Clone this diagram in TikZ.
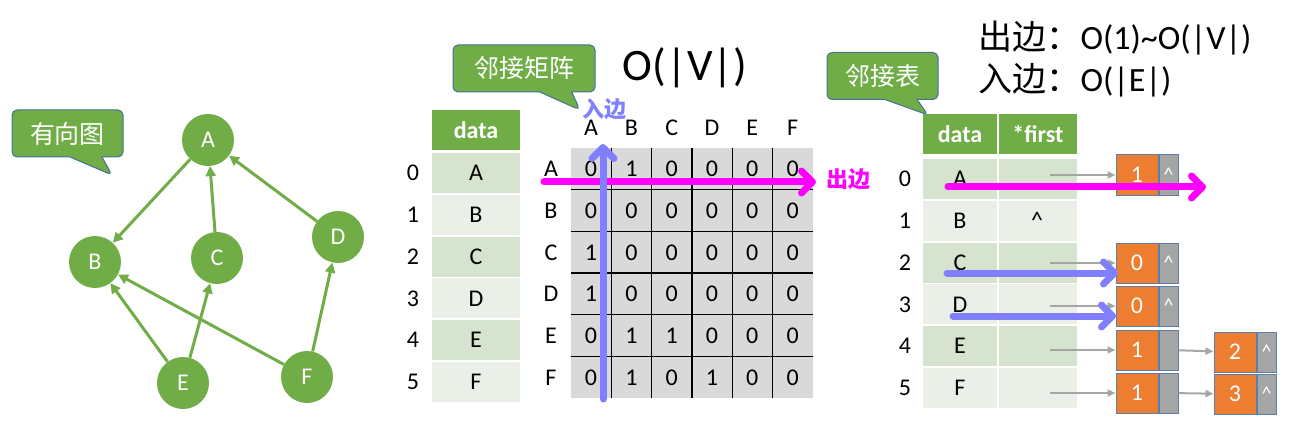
\documentclass[tikz,border=0pt]{standalone}
\usepackage{fontspec}
\setmainfont{Carlito}
\newfontfamily\cjk{Noto Sans CJK SC}
\usetikzlibrary{arrows.meta,shapes.callouts}
\definecolor{gnode}{HTML}{70AD47}
\definecolor{cbord}{HTML}{41719C}
\definecolor{rowa}{HTML}{D5E3CF}
\definecolor{rowb}{HTML}{EAEFE7}
\definecolor{mgray}{HTML}{D9D9D9}
\definecolor{orng}{HTML}{ED7D31}
\definecolor{gbx}{HTML}{A5A5A5}
\definecolor{bbord}{HTML}{5B7FA8}
\definecolor{ptrc}{HTML}{A6A6A6}
\definecolor{outc}{HTML}{FF00FF}
\definecolor{inc}{HTML}{8080FF}

\begin{document}
\begin{tikzpicture}[x=1pt,y=-1pt,
    vtx/.style={circle,fill=gnode,text=white,minimum size=52pt,inner sep=0pt,font=\fontsize{24}{28}\selectfont},
    gedge/.style={gnode,line width=3pt,-{Triangle[length=10pt,width=10pt]}},
    bubble/.style={rectangle callout,fill=gnode,draw=cbord,line width=1pt,rounded corners=5pt,
        minimum width=111pt,minimum height=47pt,inner sep=0pt,text=white,callout pointer width=32pt,
        font=\cjk\fontsize{25}{28}\selectfont},
    txt/.style={font=\fontsize{24}{28}\selectfont},
    hcell/.style={fill=gnode,text=white,minimum height=40pt,inner sep=0pt,font=\bfseries\fontsize{24}{28}\selectfont},
    dcell/.style={minimum height=40pt,inner sep=0pt,font=\fontsize{24}{28}\selectfont},
    obox/.style={fill=orng,draw=bbord,line width=1pt,minimum width=42pt,minimum height=40pt,inner sep=0pt,
        text=white,font=\fontsize{24}{28}\selectfont},
    gbox/.style={fill=gbx,draw=bbord,line width=1pt,minimum width=19pt,minimum height=40pt,inner sep=0pt,
        text=white,font=\fontsize{20}{24}\selectfont},
    ptr/.style={ptrc,line width=2pt,-{Triangle[length=8pt,width=7pt]}},
    outarr/.style={outc,line width=7pt,line cap=round,-{Straight Barb[length=11pt,width=22pt,round]}},
    inarr/.style={inc,line width=7pt,line cap=round,-{Straight Barb[length=11pt,width=22pt,round]}},
    lbl/.style={font=\cjk\bfseries\fontsize{22}{26}\selectfont}]
    \useasboundingbox (0,0) rectangle (1299,433);

    % directed graph
    \node at (208,140) [vtx] (A) {A};
    \node at (95,262) [vtx] (B) {B};
    \node at (217,258) [vtx] (C) {C};
    \node at (338,237) [vtx] (D) {D};
    \node at (183,383) [vtx] (E) {E};
    \node at (307,377) [vtx] (F) {F};
    \draw[gedge] (A) -- (B);
    \draw[gedge] (C) -- (A);
    \draw[gedge] (D) -- (A);
    \draw[gedge] (E) -- (B);
    \draw[gedge] (E) -- (C);
    \draw[gedge] (F) -- (B);
    \draw[gedge] (F) -- (D);
    \node at (67.5,133.5) [bubble,callout absolute pointer={(112,175)}] (tg) {有向图};

    % adjacency matrix
    \node at (524,68.5) [bubble,minimum width=142pt,callout absolute pointer={(580,110)}] (tm) {邻接矩阵};
    \node at (685,68) [font=\fontsize{45}{50}\selectfont] (ov) {O(|V|)};
    \node at (476,130) [hcell,minimum width=88pt] (dh) {data};
    \foreach \l/\f [count=\i from 0] in {A/rowa,B/rowb,C/rowa,D/rowb,E/rowa,F/rowb} {
        \node at (476,173+41.8*\i) [dcell,fill=\f,minimum width=88pt] (d\i) {\l};
        \node at (413,173+41.8*\i) [txt] (di\i) {\i};
    }
    \fill[mgray] (571,148) rectangle (813,398);
    \foreach \k in {1,...,5} {
        \draw[line width=1.4pt] (571+40.33*\k,148) -- (571+40.33*\k,398);
        \draw[line width=1.4pt] (571,148+41.67*\k) -- (813,148+41.67*\k);
    }
    \foreach \l [count=\i from 0] in {A,B,C,D,E,F} {
        \node at (591+40.33*\i,128) [txt] (c\l) {\l};
        \node at (551,169+41.67*\i) [txt] (r\l) {\l};
    }
    \foreach \row [count=\r from 0] in {{0,1,0,0,0,0},{0,0,0,0,0,0},{1,0,0,0,0,0},{1,0,0,0,0,0},{0,1,1,0,0,0},{0,1,0,1,0,0}}
        \foreach \v [count=\c from 0] in \row
            \node at (591+40.33*\c,169+41.67*\r) [txt] (m\r\c) {\v};

    % adjacency list
    \node at (882.5,76) [bubble,callout absolute pointer={(928,115)}] (tl) {邻接表};
    \node at (975,38) [anchor=west,font=\fontsize{34}{40}\selectfont] (cout) {{\cjk 出边：}O(1)\textasciitilde O(|V|)};
    \node at (975,80) [anchor=west,font=\fontsize{34}{40}\selectfont] (cin) {{\cjk 入边：}O(|E|)};
    \node at (960,134.5) [hcell,minimum width=74pt] (lh) {data};
    \node at (1038,134.5) [hcell,minimum width=78pt] (fh) {*first};
    \foreach \l/\f [count=\i from 0] in {A/rowa,B/rowb,C/rowa,D/rowb,E/rowa,F/rowb} {
        \node at (960,179+41.8*\i) [dcell,fill=\f,minimum width=74pt] (l\i) {\l};
        \node at (1038,179+41.8*\i) [dcell,fill=\f,minimum width=78pt] (f\i) {};
        \node at (905,179+41.8*\i) [txt] (li\i) {\i};
    }
    \node at (1037,220) [txt] (nil1) {\textasciicircum};
    \node at (1137,175) [obox] (n0a) {1};
    \node at (n0a.east) [gbox,anchor=west] (n0b) {\textasciicircum};
    \node at (1137,263) [obox] (n2a) {0};
    \node at (n2a.east) [gbox,anchor=west] (n2b) {\textasciicircum};
    \node at (1137,306) [obox] (n3a) {0};
    \node at (n3a.east) [gbox,anchor=west] (n3b) {\textasciicircum};
    \node at (1137,350) [obox] (n4a) {1};
    \node at (n4a.east) [gbox,anchor=west] (n4b) {};
    \node at (1235,352) [obox] (n4c) {2};
    \node at (n4c.east) [gbox,anchor=west] (n4d) {\textasciicircum};
    \node at (1137,393) [obox] (n5a) {1};
    \node at (n5a.east) [gbox,anchor=west] (n5b) {};
    \node at (1235,394) [obox] (n5c) {3};
    \node at (n5c.east) [gbox,anchor=west] (n5d) {\textasciicircum};
    \coordinate (s0) at (1050,175);
    \coordinate (s2) at (1050,263);
    \coordinate (s3) at (1050,306);
    \coordinate (s4) at (1050,350);
    \coordinate (s5) at (1050,393);
    \draw[ptr] (s0) -- (n0a);
    \draw[ptr] (s2) -- (n2a);
    \draw[ptr] (s3) -- (n3a);
    \draw[ptr] (s4) -- (n4a);
    \draw[ptr] (s5) -- (n5a);
    \draw[ptr] (n4b) -- (n4c);
    \draw[ptr] (n5b) -- (n5c);

    % out / in edges
    \coordinate (o1) at (544,182);
    \coordinate (o2) at (816,182);
    \coordinate (o3) at (948,187);
    \coordinate (o4) at (1206,187);
    \coordinate (i1) at (603,399);
    \coordinate (i2) at (603,144);
    \coordinate (i3) at (947,273);
    \coordinate (i4) at (1118,273);
    \coordinate (i5) at (953,316);
    \coordinate (i6) at (1116,316);
    \draw[outarr] (o1) -- (o2);
    \draw[outarr] (o3) -- (o4);
    \draw[inarr] (i1) -- (i2);
    \draw[inarr] (i3) -- (i4);
    \draw[inarr] (i5) -- (i6);
    \node at (848,179) [lbl,text=outc] (outl) {出边};
    \node at (604,109) [lbl,text=inc] (inl) {入边};
\end{tikzpicture}
\end{document}
